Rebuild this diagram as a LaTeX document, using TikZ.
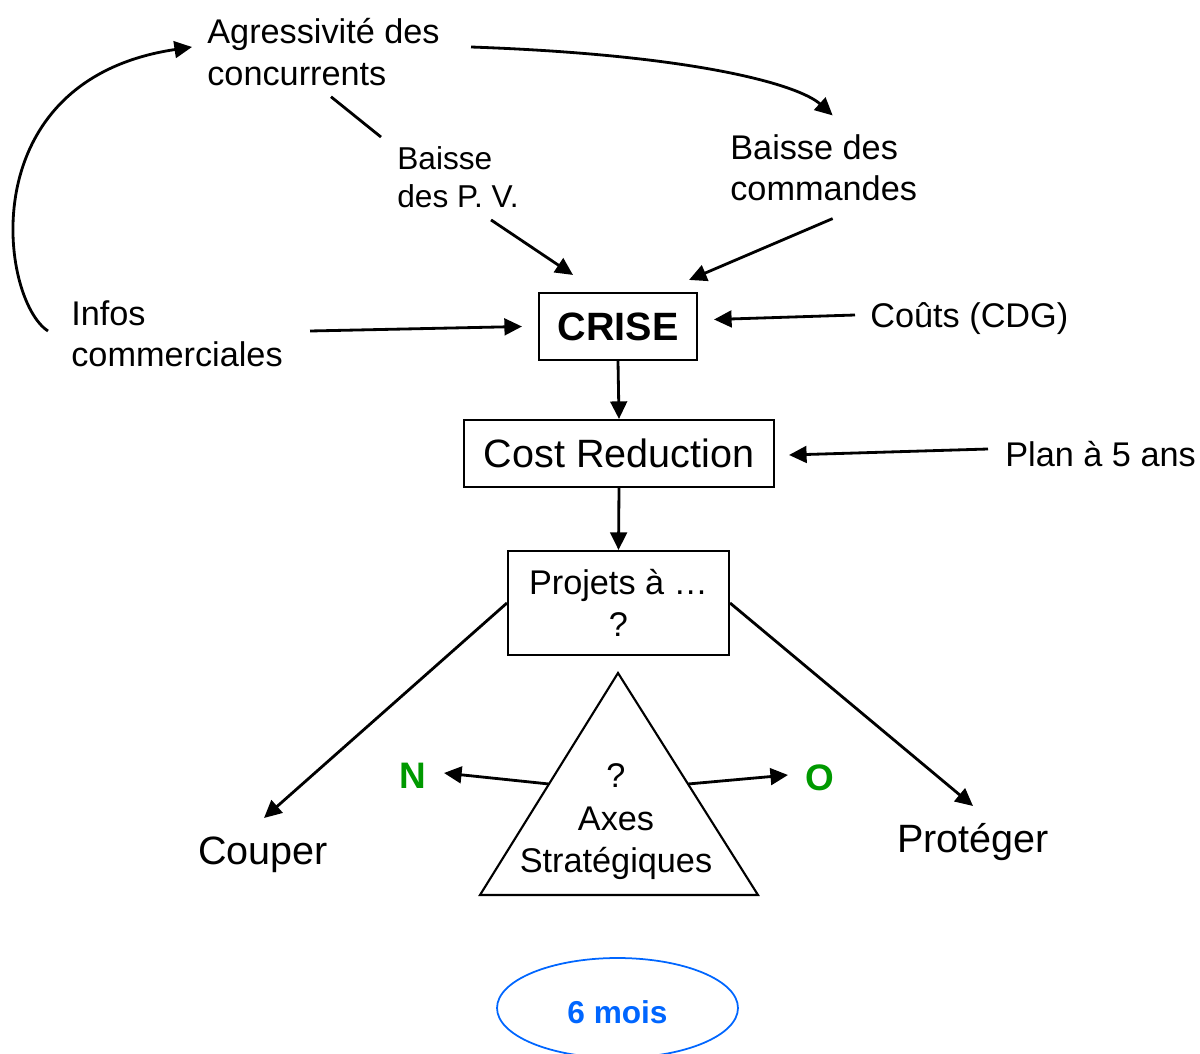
\documentclass[tikz,border=0pt]{standalone}
\usepackage{fontspec}
\setmainfont{Liberation Sans}
\usetikzlibrary{calc,arrows.meta,shapes.geometric}
\definecolor{yesgreen}{RGB}{0,153,0}
\definecolor{moisblue}{RGB}{0,102,255}
\tikzset{
	txt/.style={inner sep=0pt, align=left, anchor=west, font=\fontsize{19.5}{23.5}\selectfont},
	txtsmall/.style={txt, font=\fontsize{18}{21.6}\selectfont},
	txtbig/.style={inner sep=0pt, font=\fontsize{22.5}{27}\selectfont},
	box/.style={draw, line width=1.2pt, inner sep=0pt},
	arr/.style={line width=1.6pt, -{Triangle[length=10pt,width=9.5pt]}},
	link/.style={line width=1.6pt},
	sign/.style={inner sep=0pt, text=yesgreen, font=\bfseries\fontsize{21}{25}\selectfont},
}

\begin{document}
\begin{tikzpicture}[x=0.02cm, y=-0.02cm]
		%%%%% START %%%%%
		\useasboundingbox (0,0) rectangle (1200,1054);
		\clip (0,0) rectangle (1200,1054);
		
		% causes
		\node[txt] (agress) at (207,52) {Agressivité des\\concurrents};
		\node[txtsmall] (pv) at (397,177) {Baisse\\des P. V.};
		\node[txt] (cmd) at (730,168) {Baisse des\\commandes};
		\node[txt] (infos) at (71,334) {Infos\\commerciales};
		\node[txt] (couts) at (870,319) {Coûts (CDG)};
		\node[txt] (plan) at (1005,454) {Plan à 5 ans};
		
		% boxes
		\node[box, minimum width=3.16cm, minimum height=1.34cm, font=\bfseries\fontsize{22.5}{27}\selectfont] (crise) at (618,326.5) {CRISE};
		\node[box, minimum width=6.2cm, minimum height=1.34cm, font=\fontsize{22.5}{27}\selectfont] (costred) at (619,453.5) {Cost Reduction};
		\node[box, minimum width=4.42cm, minimum height=2.08cm, align=center, font=\fontsize{19.5}{24.2}\selectfont] (projets) at (618.5,603) {Projets à …\\?};
		
		% triangle
		\coordinate (apex) at (618,673);
		\coordinate (bleft) at (480,895);
		\coordinate (bright) at (758,895);
		\draw[line width=1.2pt] (bleft) -- (apex) -- (bright) -- cycle;
		\node[inner sep=0pt, align=center, font=\fontsize{19.5}{24.2}\selectfont] (axes) at (616,822) {?\\Axes\\Stratégiques};
		
		\node[txtbig] (couper) at (263,855) {Couper};
		\node[txtbig] (proteger) at (973,842) {Protéger};
		\node[sign] (non) at (413,776) {N};
		\node[sign] (oui) at (820,778) {O};
		
		\node[ellipse, draw=moisblue, line width=1pt, minimum width=4.82cm, minimum height=2cm, text=moisblue, text height=17.5pt, text depth=0pt, font=\bfseries\fontsize{18}{21.6}\selectfont] (mois) at (617.5,1008) {6 mois};
		
		% connectors
		\draw[arr] ($(infos.west)+(-23,-3)$) .. controls +(-48,-31) and +(-222,33) .. ($(agress.west)+(-15,-5)$);
		\draw[arr] ($(agress.east)+(31,-5)$) .. controls +(228,8) and +(-33,-30) .. ($(cmd.north)+(9,-19)$);
		\draw[link] ($(agress.south west)+(124,11)$) -- ($(pv.north west)+(-16,-9)$);
		\draw[arr] ($(pv.south)+(33,12)$) -- ($(crise.north)+(-45,-17)$);
		\draw[arr] ($(cmd.south)+(9,17)$) -- ($(crise.north east)+(-9,-12)$);
		\draw[arr] ($(infos.east)+(27,-3)$) -- ($(crise.west)+(-16,0)$);
		\draw[arr] ($(couts.west)+(-15,-4)$) -- ($(crise.east)+(16,-7)$);
		\draw[arr] (crise.south) -- (costred.north);
		\draw[arr] ($(plan.west)+(-17,-5)$) -- ($(costred.east)+(14,1.5)$);
		\draw[arr] (costred.south) -- (projets.north);
		\draw[arr] (projets.west) -- ($(couper)+(1,-37)$);
		\draw[arr] (projets.east) -- ($(proteger)+(0,-36)$);
		\draw[arr] ($(bleft)!0.5!(apex)$) -- ($(non)+(31,-3)$);
		\draw[arr] ($(bright)!0.5!(apex)$) -- ($(oui)+(-32,-3)$);
		
		%%%%% END %%%%%
\end{tikzpicture}
\end{document}
